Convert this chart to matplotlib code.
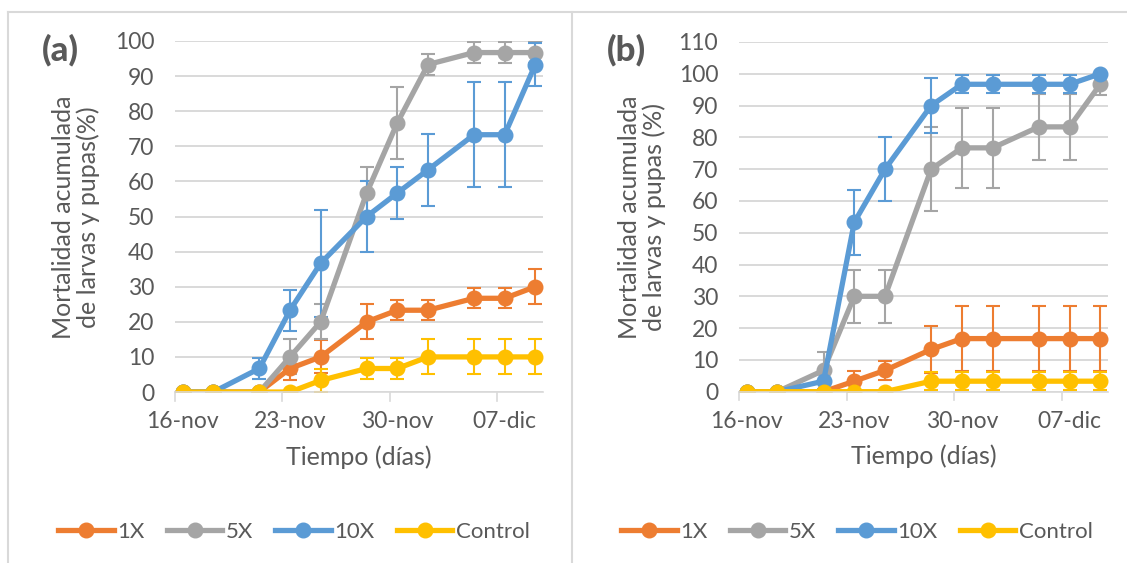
import datetime as dt
import matplotlib
matplotlib.use("Agg")
import matplotlib.pyplot as plt
import matplotlib.dates as mdates
from matplotlib.lines import Line2D

plt.rcParams['font.family'] = ['Lato', 'DejaVu Sans']

# sampling dates (day of month)
fechas = [dt.date(2019, 11, 16), dt.date(2019, 11, 18), dt.date(2019, 11, 21),
          dt.date(2019, 11, 23), dt.date(2019, 11, 25), dt.date(2019, 11, 28),
          dt.date(2019, 11, 30), dt.date(2019, 12, 2), dt.date(2019, 12, 5),
          dt.date(2019, 12, 7), dt.date(2019, 12, 9)]
tick_fechas = [dt.date(2019, 11, 16), dt.date(2019, 11, 23),
               dt.date(2019, 11, 30), dt.date(2019, 12, 7)]
tick_labels = ['16-nov', '23-nov', '30-nov', '07-dic']
series = ['1X', '5X', '10X', 'Control']

# panel (a)
a_1x = [0, 0, 0, 6.7, 10, 20, 23.3, 23.3, 26.7, 26.7, 30]
a_1x_err = [0, 0, 0, 3.3, 4.7, 5, 2.9, 2.9, 2.9, 2.9, 5]
a_5x = [0, 0, 0, 10, 20, 56.7, 76.7, 93.3, 96.7, 96.7, 96.7]
a_5x_err = [0, 0, 0, 5, 5, 7.5, 10.3, 2.9, 2.9, 2.9, 2.9]
a_10x = [0, 0, 6.7, 23.3, 36.7, 50, 56.7, 63.3, 73.3, 73.3, 93.3]
a_10x_err = [0, 0, 2.9, 5.8, 15.2, 10, 7.4, 10.3, 15, 15, 6]
a_ctrl = [0, 0, 0, 0, 3.3, 6.7, 6.7, 10, 10, 10, 10]
a_ctrl_err = [0, 0, 0, 0, 3.3, 3.1, 3.1, 5, 5, 5, 5]

# panel (b)
b_1x = [0, 0, 0, 3.3, 6.7, 13.3, 16.7, 16.7, 16.7, 16.7, 16.7]
b_1x_err = [0, 0, 0, 3.3, 2.9, 7.5, 10.2, 10.2, 10.2, 10.2, 10.2]
b_5x = [0, 0, 6.7, 30, 30, 70, 76.7, 76.7, 83.3, 83.3, 96.7]
b_5x_err = [0, 0, 5.8, 8.4, 8.4, 13.2, 12.5, 12.5, 10.4, 10.4, 3.3]
b_10x = [0, 0, 3.3, 53.3, 70, 90, 96.7, 96.7, 96.7, 96.7, 100]
b_10x_err = [0, 0, 2.9, 10.2, 10, 8.6, 2.9, 2.9, 2.9, 2.9, 0]
b_ctrl = [0, 0, 0, 0, 0, 3.3, 3.3, 3.3, 3.3, 3.3, 3.3]
b_ctrl_err = [0, 0, 0, 0, 0, 2.9, 2.9, 2.9, 2.9, 2.9, 2.9]

colores = ['#ED7D31', '#A5A5A5', '#5B9BD5', '#FFC000']
txt = '#595959'
grid = '#D9D9D9'

fig = plt.figure(figsize=(11.27, 5.63), dpi=100)
ax_a = fig.add_axes([0.1553, 0.3037, 0.3265, 0.6235])
ax_b = fig.add_axes([0.6557, 0.3043, 0.3274, 0.6211])


def panel(ax, datos, errores, ymax):
    for y, e, c, nombre in zip(datos, errores, colores, series):
        ax.errorbar(fechas, y, yerr=e, color=c, lw=3.8, marker='o', ms=10.5,
                    ecolor=c, elinewidth=1.5, capsize=5, capthick=1.5,
                    label=nombre)
    ax.set_ylim(0, ymax)
    ax.set_yticks(range(0, ymax + 1, 10))
    d0 = mdates.date2num(fechas[0]) - 0.5
    ax.set_xlim(d0, d0 + 24)
    ax.set_xticks([mdates.date2num(t) for t in tick_fechas])
    ax.set_xticklabels(tick_labels)
    # tick marks on day boundaries
    for t in tick_fechas:
        ax.plot([mdates.date2num(t) - 0.5] * 2, [0, -0.025], transform=ax.get_xaxis_transform(),
                color=grid, lw=1.2, clip_on=False)
    ax.tick_params(axis='both', length=0, labelsize=16.5, labelcolor=txt)
    ax.tick_params(axis='y', pad=15)
    ax.tick_params(axis='x', pad=14)
    ax.grid(axis='y', color=grid, lw=1.4)
    ax.set_axisbelow(True)
    for s in ['top', 'right', 'left']:
        ax.spines[s].set_visible(False)
    ax.spines['bottom'].set_color(grid)
    ax.spines['bottom'].set_linewidth(1.2)
    ax.set_xlabel('Tiempo (días)', fontsize=18, color=txt, labelpad=9)


panel(ax_a, [a_1x, a_5x, a_10x, a_ctrl], [a_1x_err, a_5x_err, a_10x_err, a_ctrl_err], 100)
panel(ax_b, [b_1x, b_5x, b_10x, b_ctrl], [b_1x_err, b_5x_err, b_10x_err, b_ctrl_err], 110)

fig.text(76 / 1127, 1 - 217 / 563, 'Mortalidad acumulada\nde larvas y pupas(%)', rotation=90,
         ha='center', va='center', fontsize=18, color=txt, linespacing=1.1)
fig.text(642 / 1127, 1 - 217 / 563, 'Mortalidad acumulada\nde larvas y pupas (%)', rotation=90,
         ha='center', va='center', fontsize=18, color=txt, linespacing=1.1)
fig.text(60 / 1127, 1 - 50 / 563, '(a)', ha='center', va='center', fontsize=25,
         fontweight='black', color=txt)
fig.text(626 / 1127, 1 - 50 / 563, '(b)', ha='center', va='center', fontsize=25,
         fontweight='black', color=txt)

handles = [Line2D([], [], color=c, lw=3.8, marker='o', ms=10.5) for c in colores]
for cx in [294 / 1127, 857 / 1127]:
    fig.legend(handles, series, loc='center', bbox_to_anchor=(cx, 1 - 532 / 563),
               ncol=4, frameon=False, fontsize=16, labelcolor=txt, handlelength=2.5,
               handletextpad=0.15, columnspacing=1.0)

# chart frames
for xs, ys in [([8, 8], [563, 12]), ([8, 1127], [12, 12]), ([572, 572], [563, 12])]:
    fig.add_artist(Line2D([x / 1127 for x in xs], [1 - y / 563 for y in ys],
                          color=grid, lw=1.5))

fig.savefig('out.png', dpi=100)
